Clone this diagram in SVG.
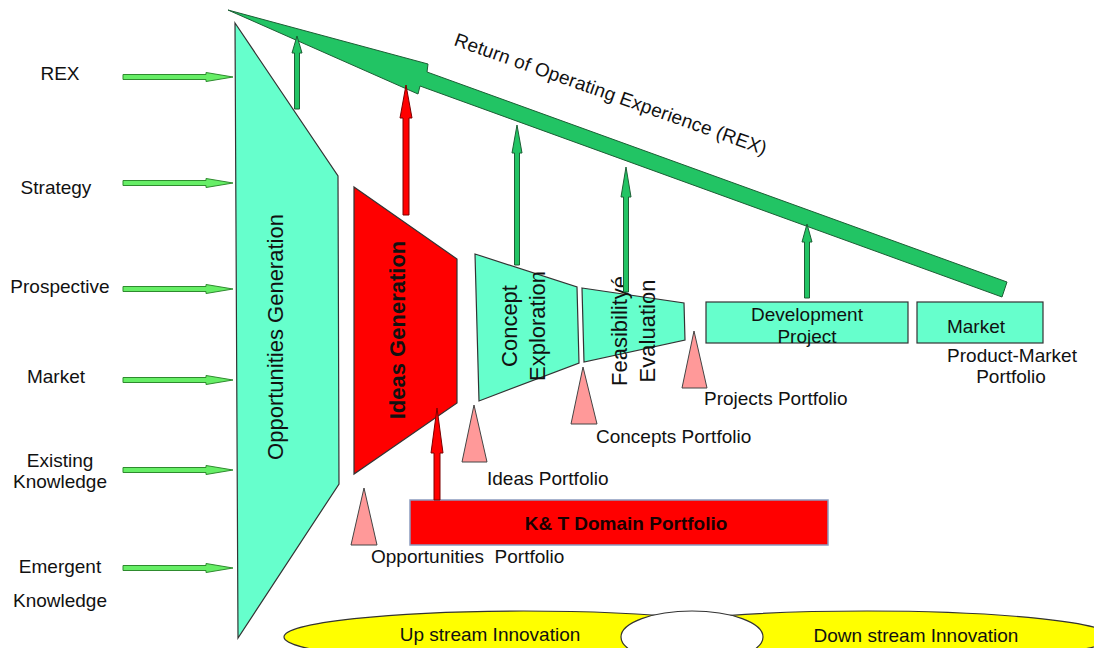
<svg xmlns="http://www.w3.org/2000/svg" width="1094" height="648" viewBox="0 0 1094 648">
<style>
text{font-family:"Liberation Sans",Arial,sans-serif;fill:#111}
.lbl{font-size:19px}
.lblc{font-size:19px;text-anchor:middle}
.big{font-size:22px;text-anchor:middle}
.bold{font-weight:bold}
.aqua{fill:#66ffcc;stroke:#333;stroke-width:1.2}
.red{fill:#ff0000;stroke:#333;stroke-width:1.2}
.pink{fill:#ff9999;stroke:#444;stroke-width:1}
.garrow{fill:#22c464;stroke:#1d5e35;stroke-width:1}
.rarrow{fill:#ff0000;stroke:#7a0000;stroke-width:1}
.inarrow{fill:#66ee66;stroke:#2e8b2e;stroke-width:1}
.yellow{fill:#ffff00;stroke:#333;stroke-width:1.2}
.white{fill:#ffffff;stroke:#333;stroke-width:1.2}
</style>
<defs>
<path id="inArr" d="M123,-2.5 H206 V-4.5 L233,0 L206,4.5 V2.5 H123 Z"/>
</defs>
<rect width="1094" height="648" fill="#ffffff"/>

<g id="input-labels">
<text class="lblc" x="60" y="80">REX</text>
<text class="lblc" x="56" y="194">Strategy</text>
<text class="lblc" x="60" y="293">Prospective</text>
<text class="lblc" x="56" y="383">Market</text>
<text class="lblc" x="60" y="467">Existing</text>
<text class="lblc" x="60" y="488">Knowledge</text>
<text class="lblc" x="60" y="573">Emergent</text>
<text class="lblc" x="60" y="607">Knowledge</text>
</g>

<g id="rex-arrow">
<polygon class="garrow" points="228,10 428,64 427,72 1007,282 1002,297 420,86 418,94"/>
<text class="lbl" transform="translate(453,45) rotate(19.5)" textLength="330" lengthAdjust="spacing">Return of Operating Experience (REX)</text>
</g>

<g id="opportunities-generation">
<polygon class="aqua" points="235,23 338,176 339,484 238,638"/>
<text class="big" transform="translate(283,337) rotate(-90)">Opportunities Generation</text>
</g>

<g id="ideas-generation">
<polygon class="red" points="354,187 457,259 457,403 354,474"/>
<text class="big bold" transform="translate(405,330) rotate(-90)">Ideas Generation</text>
</g>

<g id="concept-exploration">
<polygon class="aqua" points="475,254 577,287 579,363 479,401"/>
<text class="big" transform="translate(517,326) rotate(-90)"><tspan x="0" y="0">Concept</tspan><tspan x="0" dy="28">Exploration</tspan></text>
</g>

<g id="feasibility-evaluation">
<polygon class="aqua" points="582,288 684,303 685,340 584,362"/>
<text class="big" transform="translate(627,331) rotate(-90)"><tspan x="0" y="0">Feasibilityé</tspan><tspan x="0" dy="28">Evaluation</tspan></text>
</g>

<g id="development-project">
<rect class="aqua" x="706" y="302" width="202" height="41"/>
<text class="lblc" x="807" y="321">Development</text>
<text class="lblc" x="807" y="343">Project</text>
</g>

<g id="market">
<rect class="aqua" x="917" y="302" width="126" height="41"/>
<text class="lblc" x="976" y="333">Market</text>
<text class="lblc" x="1012" y="362">Product-Market</text>
<text class="lblc" x="1011" y="383">Portfolio</text>
</g>

<g id="kt-domain-portfolio">
<rect x="410" y="500" width="418" height="45" fill="#ff0000" stroke="#8a9abf" stroke-width="1.5"/>
<text class="lblc bold" x="626" y="530" style="fill:#1a0000">K&amp; T Domain Portfolio</text>
</g>

<g id="opportunities-portfolio">
<polygon class="pink" points="364,488 377,545 351,545"/>
<text class="lbl" x="371" y="563">Opportunities&#160; Portfolio</text>
</g>
<g id="ideas-portfolio">
<polygon class="pink" points="474,405 487,462 462,462"/>
<text class="lbl" x="487" y="485">Ideas Portfolio</text>
</g>
<g id="concepts-portfolio">
<polygon class="pink" points="583,367 597,424 571,424"/>
<text class="lbl" x="596" y="443">Concepts Portfolio</text>
</g>
<g id="projects-portfolio">
<polygon class="pink" points="694,331 707,388 682,388"/>
<text class="lbl" x="704" y="405">Projects Portfolio</text>
</g>

<g id="upstream-innovation">
<ellipse class="yellow" cx="523.5" cy="637" rx="239.5" ry="26"/>
<text class="lblc" x="490" y="641">Up stream Innovation</text>
</g>
<g id="downstream-innovation">
<ellipse class="yellow" cx="867" cy="637" rx="245" ry="26"/>
<text class="lblc" x="916" y="642">Down stream Innovation</text>
</g>
<g id="stream-junction">
<ellipse class="white" cx="692" cy="637" rx="71" ry="26"/>
</g>

<g id="connectors">
<use href="#inArr" class="inarrow" y="77"/>
<use href="#inArr" class="inarrow" y="183"/>
<use href="#inArr" class="inarrow" y="289"/>
<use href="#inArr" class="inarrow" y="380"/>
<use href="#inArr" class="inarrow" y="470"/>
<use href="#inArr" class="inarrow" y="568"/>
<polygon class="garrow" points="294.5,109 294.5,53 292,53 297,36 302,53 299.5,53 299.5,109"/>
<polygon class="garrow" points="514.5,265 514.5,153 512,153 517,125 522,153 519.5,153 519.5,265"/>
<polygon class="garrow" points="623.5,292 623.5,197 621,197 626,167 631,197 628.5,197 628.5,292"/>
<polygon class="garrow" points="804.5,298 804.5,242 802,242 807,224 812,242 809.5,242 809.5,298"/>
<polygon class="rarrow" points="403,215 403,118 400,118 406,85 412,118 409,118 409,215"/>
<polygon class="rarrow" points="434,500 434,453 431,453 437,408 443,453 440,453 440,500"/>
</g>
</svg>
